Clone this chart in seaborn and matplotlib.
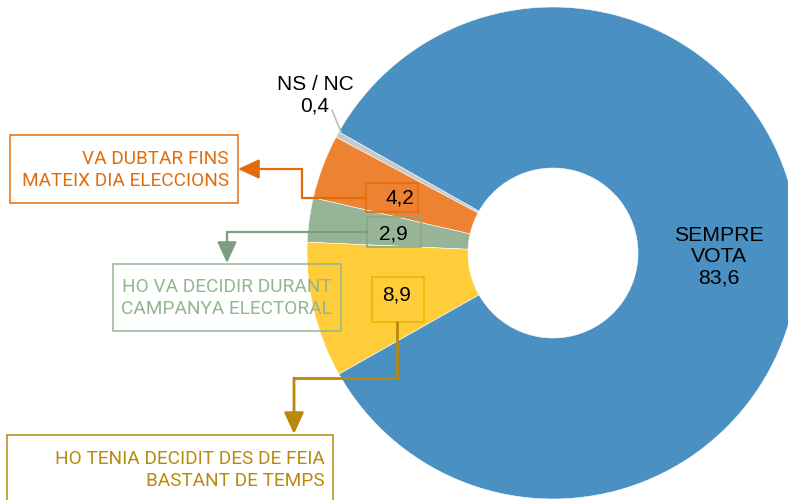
import matplotlib
matplotlib.use("Agg")
import matplotlib.pyplot as plt
from matplotlib.patches import Rectangle
import seaborn as sns

# data (order counter-clockwise from the NS/NC slice)
categories = ["NS / NC", "VA DUBTAR FINS\nMATEIX DIA ELECCIONS",
              "HO VA DECIDIR DURANT\nCAMPANYA ELECTORAL",
              "HO TENIA DECIDIT DES DE FEIA\nBASTANT DE TEMPS", "SEMPRE\nVOTA"]
values = [0.4, 4.2, 2.9, 8.9, 83.6]
value_labels = ["0,4", "4,2", "2,9", "8,9", "83,6"]

slice_colors = ["#C9C9C9", "#EC8232", "#97B496", "#FFCC3A", "#4A90C2"]
text_colors = ["black", "#E36C0A", "#92B592", "#B8890C", "black"]
box_colors = ["black", "#E36C0A", "#86A886", "#EDB400", "black"]

sns.set_theme(style="white")
plt.rcParams["font.family"] = ["Liberation Sans", "DejaVu Sans"]
narrow = ["Roboto", "Liberation Sans", "DejaVu Sans"]

H = 500


def Y(y):
    return H - y


fig = plt.figure(figsize=(7.88, 5.0), dpi=100)
ax = fig.add_axes([0, 0, 1, 1])

cx, cy, R, r = 553, 253, 246, 85
non_blue = sum(values[:-1]) / sum(values) * 360
ax.pie(values, colors=slice_colors, startangle=180 - non_blue / 2,
       counterclock=True, radius=R, center=(cx, Y(cy)),
       wedgeprops=dict(width=R - r, edgecolor="white", linewidth=0.4))
ax.set_xlim(0, 788)
ax.set_ylim(0, H)
ax.set_aspect("equal")
ax.axis("off")

# NS / NC
ax.text(315, Y(95), categories[0] + "\n" + value_labels[0], ha="center",
        va="center", fontsize=15, color="black", linespacing=1.2)
ax.plot([332, 341], [Y(110), Y(132)], color="#BDBDBD", lw=1.2)

# SEMPRE VOTA
ax.text(719, Y(257), categories[4] + "\n" + value_labels[4], ha="center",
        va="center", fontsize=15.3, color="black", linespacing=1.15)


def value_box(x0, y0, x1, y1, txt, ec, tx, ty):
    ax.add_patch(Rectangle((x0, Y(y1)), x1 - x0, y1 - y0, fill=False,
                           ec=ec, lw=1.1))
    ax.text(tx, Y(ty), txt, ha="center", va="center",
            fontsize=15, color="black")


def label_box(x0, y0, x1, y1, txt, col, tx, ty):
    ax.add_patch(Rectangle((x0, Y(y1)), x1 - x0, y1 - y0, fill=False,
                           ec=col, lw=1.1))
    ax.text(tx, Y(ty), txt, ha="right", va="center", fontsize=13.7,
            color=col, family=narrow, linespacing=1.25)


def connector(pts, col, lw):
    xs = [p[0] for p in pts]
    ys = [Y(p[1]) for p in pts]
    ax.plot(xs[:-1], ys[:-1], color=col, lw=lw, solid_joinstyle="miter")
    ax.annotate("", xy=(xs[-1], ys[-1]), xytext=(xs[-2], ys[-2]),
                arrowprops=dict(arrowstyle="-|>,head_length=1.3,head_width=0.6",
                                color=col, lw=lw, shrinkA=0, shrinkB=0,
                                mutation_scale=10))


# orange
value_box(366, 183, 418, 212, value_labels[1], box_colors[1], 400, 198)
connector([(366, 198), (302, 198), (302, 169), (238, 169)], text_colors[1], 1.6)
label_box(10, 135, 238, 203, categories[1], text_colors[1], 229, 170)

# green
value_box(367, 217, 421, 247, value_labels[2], box_colors[2], 393, 234)
connector([(367, 232), (227, 232), (227, 263)], "#7A9E7E", 1.6)
label_box(113, 264, 341, 331, categories[2], text_colors[2], 332, 298)

# yellow
value_box(372, 277, 424, 322, value_labels[3], box_colors[3], 397, 295)
connector([(397, 322), (397, 378), (294, 378), (294, 434)], "#B8890C", 2.0)
label_box(7, 435, 333, 520, categories[3], text_colors[3], 325, 470)

fig.savefig("out.png", dpi=100)
